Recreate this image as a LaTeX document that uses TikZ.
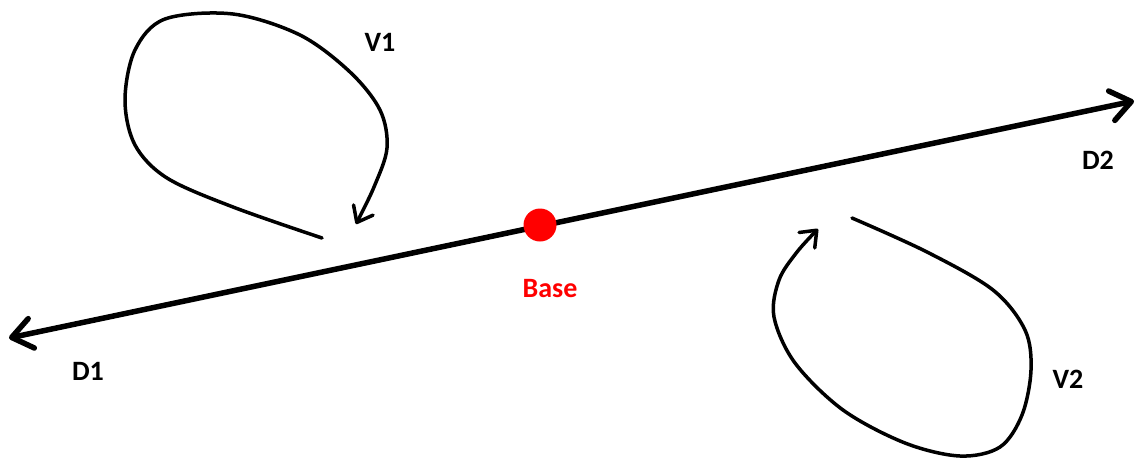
\documentclass[tikz,border=0pt]{standalone}
\usepackage{fontspec}
\setmainfont{Carlito}
\usetikzlibrary{arrows.meta}
\begin{document}
\begin{tikzpicture}[x=1pt,y=-1pt,
  mainline/.style={line width=5.5pt,line cap=round,{Straight Barb[length=20pt,width=30pt,line width=5.5pt,round]}-{Straight Barb[length=20pt,width=30pt,line width=5.5pt,round]}},
  loopline/.style={line width=3.5pt,line cap=round,-{Straight Barb[length=14pt,width=22pt,line width=3.5pt,round]}},
  lbl/.style={font=\fontsize{28}{30}\selectfont\bfseries,inner sep=0pt},
  basedot/.style={circle,fill=red,minimum size=33pt,inner sep=0pt}]
\useasboundingbox (0,0) rectangle (1137,459);
\coordinate (d1tip) at (9,338);
\coordinate (d2tip) at (1134,101);
\draw[mainline] (d1tip) -- (d2tip);
\node[basedot] (base) at (540,225) {};
\node[lbl,text=red] (baselbl) at (550,289) {Base};
\node[lbl] (d1) at (88,371) {D1};
\node[lbl] (d2) at (1098,160) {D2};
\node[lbl] (v1) at (380,42) {V1};
\node[lbl] (v2) at (1068,379) {V2};
% V1 loop
\draw[loopline] plot[smooth,tension=0.55] coordinates {(322,238) (233,207) (167,178) (135,145) (125,100) (135,50) (165,19) (233,14) (300,35) (350,72) (380,110) (387,148) (374,187) (356,224)};
% V2 loop
\draw[loopline] plot[smooth,tension=0.55] coordinates {(852,218) (927,252) (993,290) (1025,330) (1031,370) (1022,415) (1000,447) (960,456) (905,443) (843,410) (795,363) (774,317) (779,280) (797,252) (818,229)};
\end{tikzpicture}
\end{document}
